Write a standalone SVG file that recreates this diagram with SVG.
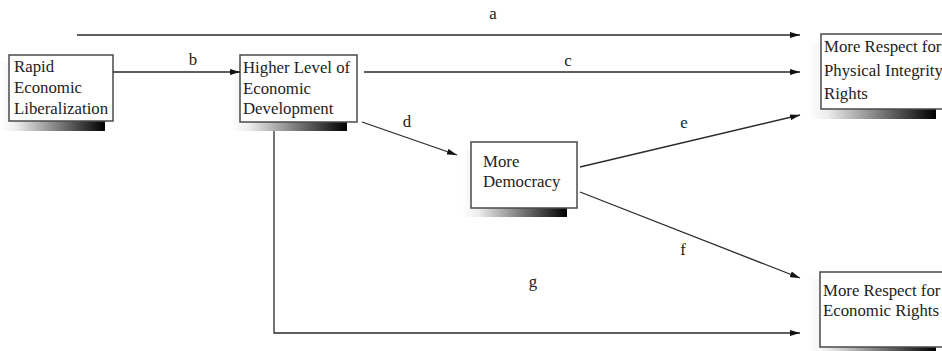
<svg xmlns="http://www.w3.org/2000/svg" width="942" height="351" viewBox="0 0 942 351">
<style>
.box{fill:#fff;stroke:#4a4a4a;stroke-width:1.5}
.sh{fill:url(#g)}
.t{font-family:"Liberation Serif","Times New Roman",serif;font-size:16.8px;fill:#222}
.lbl{font-family:"Liberation Serif","Times New Roman",serif;font-size:16.8px;fill:#222;text-anchor:middle}
.ln{fill:none;stroke:#2a2a2a;stroke-width:1.3}
</style>
<defs>
<linearGradient id="g" x1="0" y1="0" x2="1" y2="0">
<stop offset="0" stop-color="#fff"/>
<stop offset="0.15" stop-color="#eee"/>
<stop offset="1" stop-color="#000"/>
</linearGradient>
<marker id="ah" viewBox="0 0 10 6" refX="10" refY="3" markerWidth="10" markerHeight="6" markerUnits="userSpaceOnUse" orient="auto">
<path d="M0,0 L10,3 L0,6 Z" fill="#111"/>
</marker>
</defs>
<g id="rapid">
<rect class="sh" x="0" y="63" width="105" height="68"/>
<rect class="box" x="9" y="55" width="104" height="66"/>
<text class="t" x="14" y="72">Rapid</text>
<text class="t" x="14" y="93">Economic</text>
<text class="t" x="14" y="114">Liberalization</text>
</g>
<g id="higher">
<rect class="sh" x="231" y="63" width="116" height="68"/>
<rect class="box" x="240" y="55" width="117" height="67"/>
<text class="t" x="243" y="73">Higher Level of</text>
<text class="t" x="243" y="94">Economic</text>
<text class="t" x="243" y="114">Development</text>
</g>
<g id="democracy">
<rect class="sh" x="462" y="150" width="105" height="67"/>
<rect class="box" x="471" y="142" width="106" height="66"/>
<text class="t" x="483" y="167">More</text>
<text class="t" x="483" y="187">Democracy</text>
</g>
<g id="physical">
<rect class="sh" x="808" y="43" width="128" height="76"/>
<rect class="box" x="821" y="34" width="123" height="75"/>
<text class="t" x="824" y="52">More Respect for</text>
<text class="t" x="824" y="76">Physical Integrity</text>
<text class="t" x="824" y="99">Rights</text>
</g>
<g id="economic">
<rect class="sh" x="808" y="279" width="128" height="80"/>
<rect class="box" x="820" y="272" width="124" height="75"/>
<text class="t" x="823" y="296">More Respect for</text>
<text class="t" x="823" y="316">Economic Rights</text>
</g>
<g id="connectors">
<line class="ln" x1="77" y1="35" x2="800" y2="35" marker-end="url(#ah)"/>
<line class="ln" x1="113" y1="72" x2="240" y2="72" marker-end="url(#ah)"/>
<line class="ln" x1="364" y1="72" x2="800" y2="72" marker-end="url(#ah)"/>
<line class="ln" x1="362" y1="122" x2="457" y2="155" marker-end="url(#ah)"/>
<line class="ln" x1="580" y1="167" x2="800" y2="115" marker-end="url(#ah)"/>
<line class="ln" x1="580" y1="192" x2="800" y2="278" marker-end="url(#ah)"/>
<polyline class="ln" points="274,131 274,333 800,333" marker-end="url(#ah)"/>
<text class="lbl" x="493" y="19">a</text>
<text class="lbl" x="193" y="65">b</text>
<text class="lbl" x="568" y="66">c</text>
<text class="lbl" x="407" y="127">d</text>
<text class="lbl" x="684" y="128">e</text>
<text class="lbl" x="683" y="255">f</text>
<text class="lbl" x="533" y="287">g</text>
</g>
</svg>
